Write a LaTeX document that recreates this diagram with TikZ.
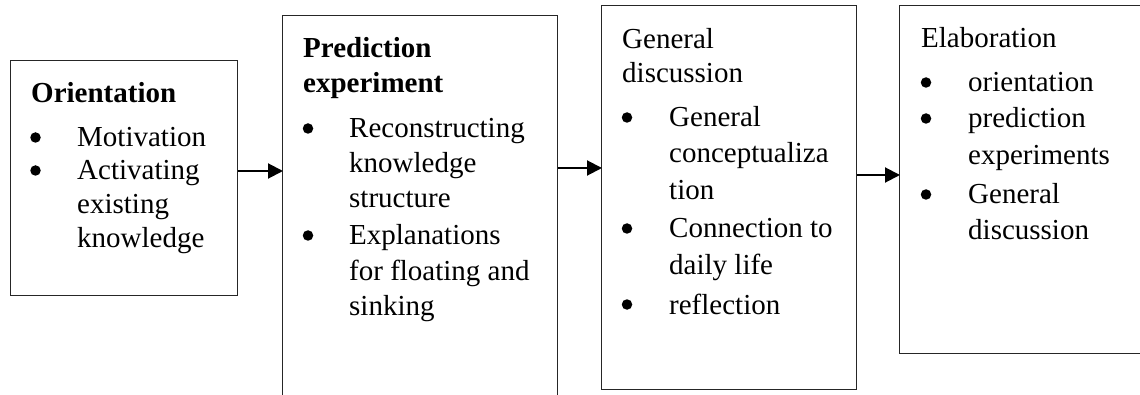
\documentclass[tikz,border=0pt]{standalone}
\usepackage{fontspec}
\setmainfont{Liberation Serif}
\usetikzlibrary{arrows.meta}
\tikzset{
  stagebox/.style={draw=black!85, line width=1pt, rectangle, inner sep=0pt, anchor=north west},
  txt/.style={anchor=base west, inner sep=0pt, font=\fontsize{29}{34}\selectfont},
  ttl/.style={txt, font=\fontsize{29}{34}\selectfont\bfseries},
  bul/.style={circle, fill=black, inner sep=0pt, minimum size=10.5pt},
  flow/.style={line width=2pt, -{Triangle[length=15pt,width=15pt]}, shorten >=-1pt}
}
\begin{document}
\begin{tikzpicture}[x=1pt,y=-1pt]
\useasboundingbox (0,0) rectangle (1140,395);
\clip (0,0) rectangle (1140,395);
% boxes
\node[stagebox, minimum width=227pt, minimum height=235pt] (b1) at (10,60) {};
\node[stagebox, minimum width=275pt, minimum height=420pt] (b2) at (282,15) {};
\node[stagebox, minimum width=255pt, minimum height=384pt] (b3) at (601,5) {};
\node[stagebox, minimum width=300pt, minimum height=348pt] (b4) at (899,5) {};
% box 1
\node[ttl] (t1) at (31,103) {Orientation};
\node[bul] (u11) at (35.5,137.5) {};
\node[txt] (l11) at (77,147) {Motivation};
\node[bul] (u12) at (35.5,170.5) {};
\node[txt] (l12) at (77,180) {Activating};
\node[txt] (l13) at (77,214) {existing};
\node[txt] (l14) at (77,248) {knowledge};
% box 2
\node[ttl] (t2a) at (303,58) {Prediction};
\node[ttl] (t2b) at (303,93) {experiment};
\node[bul] (u21) at (308,128.5) {};
\node[txt] (l21) at (349,138) {Reconstructing};
\node[txt] (l22) at (349,173) {knowledge};
\node[txt] (l23) at (349,208) {structure};
\node[bul] (u22) at (308,235.5) {};
\node[txt] (l24) at (349,245) {Explanations};
\node[txt] (l25) at (349,280) {for floating and};
\node[txt] (l26) at (349,315) {sinking};
% box 3
\node[txt] (t3a) at (622,49) {General};
\node[txt] (t3b) at (622,83) {discussion};
\node[bul] (u31) at (627,117.5) {};
\node[txt] (l31) at (669,127) {General};
\node[txt] (l32) at (669,163) {conceptualiza};
\node[txt] (l33) at (669,200) {tion};
\node[bul] (u32) at (627,228.5) {};
\node[txt] (l34) at (669,238) {Connection to};
\node[txt] (l35) at (669,275) {daily life};
\node[bul] (u33) at (627,304.5) {};
\node[txt] (l36) at (669,314) {reflection};
% box 4
\node[txt] (t4) at (921,48) {Elaboration};
\node[bul] (u41) at (926,82.5) {};
\node[txt] (l41) at (968,92) {orientation};
\node[bul] (u42) at (926,118.5) {};
\node[txt] (l42) at (968,128) {prediction};
\node[txt] (l43) at (968,165) {experiments};
\node[bul] (u43) at (926,194.5) {};
\node[txt] (l44) at (968,204) {General};
\node[txt] (l45) at (968,240) {discussion};
% arrows
\draw[flow] (b1.east |- 0,171) -- (b2.west |- 0,171);
\draw[flow] (b2.east |- 0,168) -- (b3.west |- 0,168);
\draw[flow] (b3.east |- 0,175) -- (b4.west |- 0,175);
\end{tikzpicture}
\end{document}
